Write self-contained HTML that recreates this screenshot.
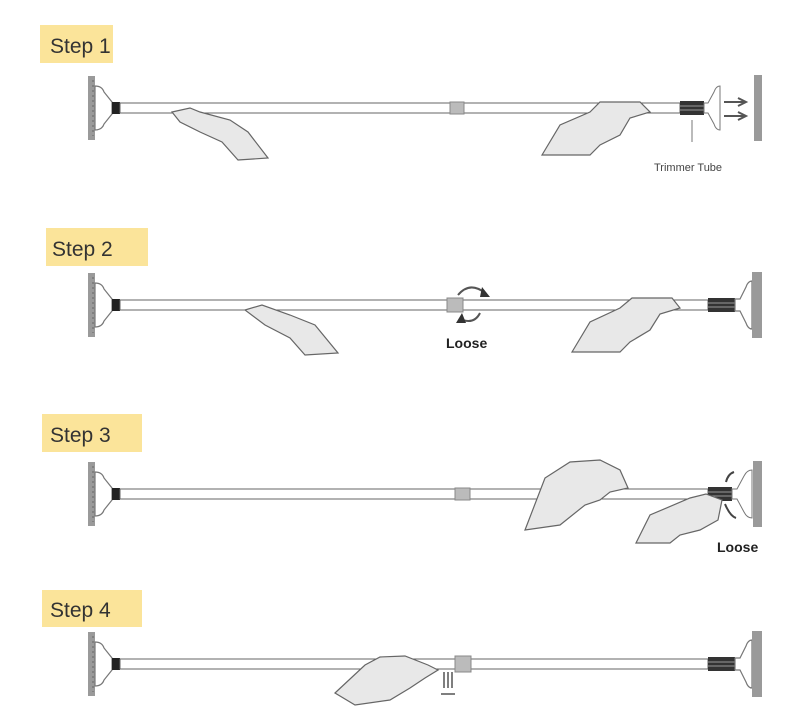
<!DOCTYPE html>
<html><head><meta charset="utf-8"><style>
body{margin:0;background:#fff;}
svg{display:block;}
.lbl{font-family:"Liberation Sans","DejaVu Sans",sans-serif;font-size:21px;fill:#333;}
.b{font-family:"Liberation Sans",sans-serif;font-weight:bold;font-size:14px;fill:#222;}
.hand{fill:#e8e8e8;stroke:#666;stroke-width:1.2;}
</style></head><body>
<svg width="800" height="723" viewBox="0 0 800 723" xmlns="http://www.w3.org/2000/svg">
<defs>
<g id="L">
<rect x="88" y="-32" width="7" height="64" fill="#9a9a9a"/>
<line x1="93" y1="-28" x2="93" y2="28" stroke="#666" stroke-dasharray="2 3"/>
<path d="M95,-22 Q102,-22 104,-16 L112,-6 L112,6 L104,16 Q102,22 95,22 Z" fill="#fff" stroke="#777" stroke-width="1.2"/>
<rect x="112" y="-6" width="8" height="12" fill="#222"/>
</g>
<g id="R">
<rect x="708" y="-7" width="27" height="14" fill="#333"/>
<line x1="708" y1="-2" x2="735" y2="-2" stroke="#999"/>
<line x1="708" y1="2" x2="735" y2="2" stroke="#999"/>
<path d="M735,-6 L740,-6 L746,-18 Q748,-24 752,-24 L752,24 Q748,24 746,18 L740,6 L735,6 Z" fill="#fff" stroke="#777" stroke-width="1.2"/>
<rect x="752" y="-33" width="10" height="66" fill="#9a9a9a"/>
</g>
</defs>

<!-- Step 1 -->
<rect x="40" y="25" width="73" height="38" fill="#fbe49a"/>
<text x="50" y="53" class="lbl">Step 1</text>
<g transform="translate(0,108)">
<use href="#L"/>
<rect x="120" y="-5" width="560" height="10" fill="#fff" stroke="#666"/>
<rect x="450" y="-6" width="14" height="12" fill="#bbb" stroke="#888"/>
<rect x="680" y="-7" width="24" height="14" fill="#333"/>
<line x1="680" y1="-2" x2="704" y2="-2" stroke="#999"/><line x1="680" y1="2" x2="704" y2="2" stroke="#999"/>
<path d="M704,-5 L708,-5 L714,-16 Q716,-22 720,-22 L720,22 Q716,22 714,16 L708,5 L704,5 Z" fill="#fff" stroke="#777"/>
<path d="M724,-6 H744 M738,-10 L746,-6 L738,-2 M724,8 H744 M738,4 L746,8 L738,12" stroke="#555" stroke-width="2" fill="none"/>
<rect x="754" y="-33" width="8" height="66" fill="#9a9a9a"/>
<line x1="692" y1="12" x2="692" y2="34" stroke="#777"/>
</g>
<text x="654" y="171" font-family="Liberation Sans,sans-serif" font-size="11" fill="#444">Trimmer Tube</text>
<path class="hand" d="M172,112 L190,108 L200,112 L230,120 L248,132 L268,158 L238,160 L222,142 L200,132 L180,122 Z"/>
<path class="hand" d="M542,155 L560,125 L590,112 L600,102 L640,102 L650,112 L630,118 L620,135 L600,145 L590,155 Z"/>

<!-- Step 2 -->
<rect x="46" y="228" width="102" height="38" fill="#fbe49a"/>
<text x="52" y="256" class="lbl">Step 2</text>
<g transform="translate(0,305)">
<use href="#L"/>
<rect x="120" y="-5" width="588" height="10" fill="#fff" stroke="#666"/>
<rect x="447" y="-7" width="16" height="14" fill="#bbb" stroke="#888"/>
<use href="#R"/>
<path d="M458,-10 Q470,-24 485,-12" stroke="#555" stroke-width="2" fill="none"/>
<path d="M482,-18 L490,-8 L480,-8 Z" fill="#333"/>
<path d="M480,8 Q474,20 460,14" stroke="#555" stroke-width="2" fill="none"/>
<path d="M462,8 L456,18 L466,18 Z" fill="#333"/>
</g>
<text x="446" y="348" class="b">Loose</text>
<path class="hand" d="M245,310 L262,305 L290,315 L315,325 L338,353 L305,355 L290,338 L265,325 Z"/>
<path class="hand" d="M572,352 L590,322 L620,308 L632,298 L672,298 L680,308 L660,314 L650,330 L630,342 L620,352 Z"/>

<!-- Step 3 -->
<rect x="42" y="414" width="100" height="38" fill="#fbe49a"/>
<text x="50" y="442" class="lbl">Step 3</text>
<g transform="translate(0,494)">
<use href="#L"/>
<rect x="120" y="-5" width="588" height="10" fill="#fff" stroke="#666"/>
<rect x="455" y="-6" width="15" height="12" fill="#bbb" stroke="#888"/>
<rect x="708" y="-7" width="24" height="14" fill="#333"/>
<line x1="708" y1="-2" x2="732" y2="-2" stroke="#999"/><line x1="708" y1="2" x2="732" y2="2" stroke="#999"/>
<path d="M732,-5 L737,-5 L744,-18 Q747,-24 752,-24 L752,24 Q747,24 744,18 L737,5 L732,5 Z" fill="#fff" stroke="#777"/>
<rect x="753" y="-33" width="9" height="66" fill="#9a9a9a"/>
<path d="M726,-12 Q728,-20 734,-22 M725,10 Q730,22 736,24" stroke="#444" stroke-width="2" fill="none"/>
</g>
<text x="717" y="552" class="b">Loose</text>
<path class="hand" d="M525,530 L545,478 L570,462 L600,460 L620,470 L628,488 L610,492 L600,500 L585,505 L560,525 Z"/>
<path class="hand" d="M636,543 L650,515 L690,498 L706,494 L722,500 L718,520 L700,530 L680,535 L670,543 Z"/>

<!-- Step 4 -->
<rect x="42" y="590" width="100" height="37" fill="#fbe49a"/>
<text x="50" y="617" class="lbl">Step 4</text>
<g transform="translate(0,664)">
<use href="#L"/>
<rect x="120" y="-5" width="588" height="10" fill="#fff" stroke="#666"/>
<rect x="455" y="-8" width="16" height="16" fill="#bbb" stroke="#888"/>
<use href="#R"/>
<path d="M444,8 V24 M448,8 V24 M452,8 V24 M441,30 H455" stroke="#555" stroke-width="1.5"/>
</g>
<path class="hand" d="M335,693 L365,665 L380,657 L405,656 L428,665 L438,670 L425,678 L410,688 L390,700 L355,705 Z"/>
</svg>
</body></html>
